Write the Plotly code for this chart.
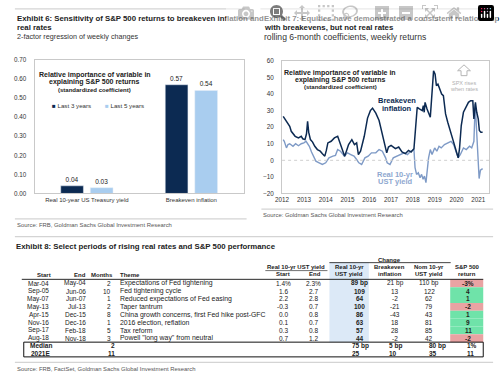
import plotly.graph_objects as go

W, H = 500, 380
def px(x): return x / W
def py(y): return 1 - y / H

NARROW = "Liberation Sans Narrow, Arial Narrow, Liberation Sans, Arial"
BODY = "Liberation Sans, Arial, sans-serif"
NAVY = "#0c2a52"
LIGHT = "#a9cdef"
REAL = "#7e9ac6"
GRID = "#c9c9c9"

# ---------------- Exhibit 6 data ----------------
ex6_categories = ["Real 10-year US Treasury yield", "Breakeven inflation"]
ex6_last3 = [0.04, 0.57]
ex6_last5 = [0.03, 0.54]
ex6_names = ["Last 3 years", "Last 5 years"]
ex6_yticks = [0.0, 0.1, 0.2, 0.3, 0.4, 0.5, 0.6, 0.7]

# ---------------- Exhibit 7 data ----------------
be_years = [2012.05, 2012.12, 2012.2, 2012.28, 2012.35, 2012.42, 2012.5, 2012.6, 2012.75, 2012.88,
            2012.95, 2013.05, 2013.12, 2013.17, 2013.22, 2013.3, 2013.4, 2013.5, 2013.62, 2013.75,
            2013.85, 2013.96, 2014.03, 2014.1, 2014.25, 2014.4, 2014.55, 2014.65, 2014.8, 2014.87,
            2014.95, 2015.05, 2015.2, 2015.32, 2015.42, 2015.5, 2015.6, 2015.77, 2015.92, 2016.05,
            2016.15, 2016.3, 2016.45, 2016.55, 2016.65, 2016.75, 2016.8, 2016.88, 2017.0, 2017.2,
            2017.35, 2017.5, 2017.65, 2017.8, 2017.92, 2018.05, 2018.12, 2018.2, 2018.3, 2018.43,
            2018.48, 2018.52, 2018.56, 2018.65, 2018.8, 2018.88, 2018.95, 2019.02, 2019.08, 2019.15,
            2019.22, 2019.32, 2019.4, 2019.5, 2019.6, 2019.7, 2019.78, 2019.87, 2020.0, 2020.08,
            2020.14, 2020.22, 2020.32, 2020.45, 2020.55, 2020.65, 2020.75, 2020.8, 2020.87, 2020.93,
            2021.0, 2021.05, 2021.12, 2021.2]
be_values = [26.5, 25, 23.5, 22, 20.5, 17.5, 16, 14.5, 13.5, 14.5,
             13, 12.5, 16, 23.5, 17, 12.5, 11, 8.5, 6.5, 5.5,
             4, 2.5, 6, 10.5, 11.5, 13.5, 14.5, 10.5, 4.5, 2.5,
             5.5, 9.5, 12.5, 9.5, 10.5, 3.5, 5.5, 14.5, 25.5, 30,
             31.5, 28.5, 24, 18, 13, 8, 4.5, 8, 9, 7,
             8, 5, 4, 6, 5, 7, 17, 32, 31, 30,
             33, 29, 35, 31, 26, 41, 54, 52, 45, 46,
             43, 40, 39, 28, 23, 19, 15, 11, 5, 1.5,
             7, 21, 29, 33, 35, 36, 36, 25, 35, 29,
             25, 18, 17, 17]
rr_years = [2012.05, 2012.1, 2012.2, 2012.27, 2012.35, 2012.5, 2012.62, 2012.75, 2012.88, 2013.0,
            2013.1, 2013.18, 2013.25, 2013.35, 2013.45, 2013.55, 2013.7, 2013.85, 2014.0, 2014.15,
            2014.33, 2014.45, 2014.55, 2014.68, 2014.86, 2015.0, 2015.15, 2015.3, 2015.42, 2015.52,
            2015.65, 2015.8, 2015.95, 2016.1, 2016.3, 2016.45, 2016.6, 2016.75, 2016.82, 2016.95,
            2017.1, 2017.25, 2017.4, 2017.6, 2017.75, 2017.9, 2018.05, 2018.1, 2018.17, 2018.25,
            2018.33, 2018.4, 2018.47, 2018.53, 2018.6, 2018.65, 2018.72, 2018.8, 2018.88, 2019.0,
            2019.1, 2019.2, 2019.3, 2019.45, 2019.6, 2019.75, 2019.87, 2019.98, 2020.08, 2020.18,
            2020.32, 2020.45, 2020.6, 2020.7, 2020.8, 2020.86, 2020.92, 2021.0, 2021.04, 2021.1,
            2021.2]
rr_values = [12.5, 11.5, 7.5, 9.5, 10, 8.5, 10, 8.8, 10, 10.5,
             11.5, 9.5, 8.5, 5, 2.5, -0.5, -1.5, -2.5, -1.5, 1.5,
             2.5, 3, 6.5, 5.5, 2.5, 4.5, 3.5, 2.5, 0.5, -1.5,
             -2.5, 1.5, 2.5, 4.5, 4.5, 6.5, 5.5, 1.5, -1.5, -2.5,
             1.5, 2.5, 3.5, 4.5, 3.5, 5.5, 6.5, -4.5, -8.5, -7.5,
             -10.5, -8.5, -11.5, -9.5, -13.5, -6.5, 1.5, 6.5, 3.5, 7.5,
             5.5, 8.5, 7.5, 9.5, 10.5, 11.5, 9.5, 5.5, 1.5, 3.5,
             7.5, 6.5, 8.5, 7.5, 11.5, 34, 20, 0, -11, -6,
             -5]
ex7_xticks = [2012, 2013, 2014, 2015, 2016, 2017, 2018, 2019, 2020, 2021]
ex7_yticks = [-20, -10, 0, 10, 20, 30, 40, 50, 60]

# ---------------- Exhibit 8 data ----------------
t_start = ["Mar-04", "Sep-05", "May-07", "May-13", "Apr-15", "Nov-16", "Sep-17", "Aug-18"]
t_end = ["May-04", "Jun-06", "Jun-07", "Jul-13", "Dec-15", "Dec-16", "Feb-18", "Nov-18"]
t_months = ["2", "10", "1", "2", "8", "1", "5", "3"]
t_theme = ["Expectations of Fed tightening", "Fed tightening cycle",
           "Reduced expectations of Fed easing", "Taper tantrum",
           "China growth concerns, first Fed hike post-GFC", "2016 election, reflation",
           "Tax reform", "Powell \"long way\" from neutral"]
t_real_start = ["1.4%", "1.6", "2.2", "-0.3", "0.0", "0.1", "0.3", "0.7"]
t_real_end = ["2.3%", "2.7", "2.8", "0.7", "0.8", "0.7", "0.8", "1.2"]
t_real_chg = ["89 bp", "109", "64", "100", "86", "63", "57", "44"]
t_be_chg = ["21 bp", "13", "-2", "-21", "-43", "18", "28", "-2"]
t_nom_chg = ["110 bp", "122", "62", "79", "43", "81", "85", "42"]
t_spx = ["-3%", "4", "1", "-2", "1", "9", "11", "-2"]
t_spx_val = [-3, 4, 1, -2, 1, 9, 11, -2]
t_summary_labels = ["Median", "2021E"]
t_summary_months = ["2", "11"]
t_summary_real = ["75 bp", "25"]
t_summary_be = ["5 bp", "10"]
t_summary_nom = ["80 bp", "35"]
t_summary_spx = ["1%", "11"]

fig = go.Figure()

# Exhibit 6 bars
for vals, name, col in [(ex6_last3, ex6_names[0], NAVY), (ex6_last5, ex6_names[1], LIGHT)]:
    fig.add_trace(go.Bar(x=ex6_categories, y=vals, name=name, marker_color=col,
                         text=[f"{v:.2f}" for v in vals], textposition="outside",
                         textfont=dict(size=6.5, color="#222", family=BODY), cliponaxis=False,
                         xaxis="x", yaxis="y", showlegend=False))

# Exhibit 7 lines
fig.add_trace(go.Scatter(x=rr_years, y=rr_values, mode="lines", line=dict(color=REAL, width=1.4),
                         xaxis="x2", yaxis="y2", showlegend=False, name="Real 10-yr UST yield"))
fig.add_trace(go.Scatter(x=be_years, y=be_values, mode="lines", line=dict(color=NAVY, width=1.5),
                         xaxis="x2", yaxis="y2", showlegend=False, name="Breakeven inflation"))

tickfont = dict(size=6.3, color="#333", family=BODY)
fig.update_layout(
    width=W, height=H, autosize=False, margin=dict(l=0, r=0, t=0, b=0),
    paper_bgcolor="white", plot_bgcolor="white",
    barmode="group", bargap=0.434, bargroupgap=0.233,
    xaxis=dict(domain=[px(28), px(240)], showline=True, linecolor=GRID, mirror=True,
               ticks="", tickfont=dict(size=6, color="#333", family=BODY), fixedrange=True),
    yaxis=dict(domain=[py(193), py(57)], range=[0, 0.7], tickvals=ex6_yticks, tickformat=".2f",
               showgrid=False, zeroline=False, showline=True, linecolor=GRID, mirror=True,
               ticks="", tickfont=tickfont, ticklabelstandoff=6),
    xaxis2=dict(domain=[px(279), px(489)], range=[2012, 2021.5], tickvals=ex7_xticks,
                showgrid=False, zeroline=False, showline=True, linecolor=GRID, mirror=True,
                ticks="", tickfont=tickfont, anchor="y2"),
    yaxis2=dict(domain=[py(193), py(58)], range=[-20, 60], tickvals=ex7_yticks,
                showgrid=False, zeroline=False, showline=True, linecolor=GRID, mirror=True,
                ticks="", tickfont=tickfont, anchor="x2", ticklabelstandoff=6),
)

shapes = []
ann = []

def hline(x0, x1, y, color="#d4d4d4", width=1.2, dash=None):
    d = dict(type="line", xref="paper", yref="paper", x0=px(x0), x1=px(x1), y0=py(y), y1=py(y),
             line=dict(color=color, width=width))
    if dash:
        d["line"]["dash"] = dash
    shapes.append(d)

def rect(x0, x1, y0, y1, fill, line=None):
    shapes.append(dict(type="rect", xref="paper", yref="paper", x0=px(x0), x1=px(x1),
                       y0=py(y1), y1=py(y0), fillcolor=fill,
                       line=dict(width=1 if line else 0, color=line or fill), layer="below"))

def text(x, y, s, size=7, color="#222", family=BODY, anchor="left", bold=False):
    if bold:
        s = f"<b>{s}</b>"
    ann.append(dict(xref="paper", yref="paper", x=px(x), y=py(y), text=s, showarrow=False,
                    xanchor=anchor, yanchor="middle", font=dict(size=size, color=color, family=family)))

TT = 7.8
# top rules and separators
hline(8, 241, 5)
hline(257, 491, 5)
hline(8, 243, 219)
hline(258, 493, 209)
hline(8, 493, 237)
hline(8, 493, 365)

# Exhibit 6 text
text(8, 15, "Exhibit 6: Sensitivity of S&P 500 returns to breakeven inflation and", TT, "#222", NARROW, bold=True)
text(8, 23.5, "real rates", TT, "#222", NARROW, bold=True)
text(8, 33.5, "2-factor regression of weekly changes", 7.2, "#333", NARROW)
text(89, 72, "Relative importance of variable in", 7, "#222", BODY, "center", True)
text(89, 79.5, "explaining S&P 500 returns", 7, "#222", BODY, "center", True)
text(89, 87.5, "(standardized coefficient)", 6, "#222", BODY, "center", True)
text(44, 103, f"<span style='color:{NAVY}'>■</span> {ex6_names[0]}", 6.2, "#333")
text(97, 103, f"<span style='color:{LIGHT}'>■</span> {ex6_names[1]}", 6.2, "#333")
text(8, 225, "Source: FRB, Goldman Sachs Global Investment Research", 5.9, "#555", NARROW)

# Exhibit 7 text
text(259, 15, "Exhibit 7: Equities have demonstrated a consistent relationship", TT, "#222", NARROW, bold=True)
text(259, 23.5, "with breakevens, but not real rates", TT, "#222", NARROW, bold=True)
text(259, 33.5, "rolling 6-month coefficients, weekly returns", 8.6, "#333", NARROW)
text(338, 70, "Relative importance of variable in", 7, "#222", BODY, "center", True)
text(338, 77.3, "explaining S&P 500 returns", 7, "#222", BODY, "center", True)
text(338, 84.5, "(standardized coefficient)", 6, "#222", BODY, "center", True)
text(396, 98.5, "Breakeven", 7.5, NAVY, BODY, "center", True)
text(396, 106.5, "inflation", 7.5, NAVY, BODY, "center", True)
text(394, 173.5, "Real 10-yr", 7.5, "#8ea7cf", BODY, "center", True)
text(394, 181, "UST yield", 7.5, "#8ea7cf", BODY, "center", True)
text(463, 80.5, "SPX rises", 5.5, "#b0b0b0", BODY, "center")
text(463, 87, "when rates", 5.5, "#b0b0b0", BODY, "center")
text(258, 214.5, "Source: Goldman Sachs Global Investment Research", 5.9, "#555", NARROW)
# zero line and arrow
shapes.append(dict(type="line", xref="x2 domain", yref="y2", x0=0, x1=1, y0=0, y1=0,
                   line=dict(color="#cfcfcf", width=1, dash="dot")))
shapes.append(dict(type="path", xref="paper", yref="paper",
                   path=(f"M{px(460.5)},{py(73)} L{px(460.5)},{py(68)} L{px(457)},{py(68)} "
                         f"L{px(463.5)},{py(62)} L{px(470)},{py(68)} L{px(466.5)},{py(68)} "
                         f"L{px(466.5)},{py(73)} Z"),
                   line=dict(color="#b5b5b5", width=1), fillcolor="rgba(0,0,0,0)"))

# Exhibit 8
text(7, 247.5, "Exhibit 8: Select periods of rising real rates and S&P 500 performance", TT, "#222", NARROW, bold=True)
text(8, 372, "Source: FRB, FactSet, Goldman Sachs Global Investment Research", 5.9, "#555", NARROW)

TS = 6.5
HS = 6
# backgrounds
rect(327, 367, 263, 344.5, "#dce9f7")
for i, v in enumerate(t_spx_val):
    rect(449.5, 483, 280.5 + 8 * i, 288.5 + 8 * i, "#e9a3a3" if v < 0 else "#6fe3a9")
# lines
hline(327, 450, 263.5, "#111", 0.8)
hline(262, 325, 271.6, "#111", 0.6)
hline(15, 483, 280.5, "#111", 0.9)
shapes.append(dict(type="rect", xref="paper", yref="paper", x0=px(17), x1=px(483),
                   y0=py(359.5), y1=py(344.5), line=dict(color="#111", width=1)))

# headers
text(388, 260.5, "Change", HS, anchor="center", bold=True)
text(293, 268, "Real 10-yr UST yield", HS, anchor="center", bold=True)
text(280, 275.5, "Start", HS, anchor="center", bold=True)
text(312, 275.5, "End", HS, anchor="center", bold=True)
for cx, l1, l2 in [(347, "Real 10-yr", "UST yield"), (388, "Breakeven", "inflation"),
                   (428, "Nom 10-yr", "UST yield"), (467, "S&P 500", "return")]:
    text(cx, 268, l1, HS, anchor="center", bold=True)
    text(cx, 275.5, l2, HS, anchor="center", bold=True)
text(28, 276, "Start", HS, bold=True)
text(66, 276, "End", HS, bold=True)
text(110, 276, "Months", HS, anchor="right", bold=True)
text(113, 276, "Theme", HS, bold=True)

for i in range(len(t_start)):
    y = 284.5 + 8 * i
    text(45, y, t_start[i], TS, anchor="right")
    text(82, y, t_end[i], TS, anchor="right")
    text(108, y, t_months[i], TS, anchor="right")
    text(113, y, t_theme[i], 6.9)
    text(280, y, t_real_start[i], TS, anchor="center")
    text(311, y, t_real_end[i], TS, anchor="center")
    text(358, y, t_real_chg[i], TS, anchor="center", bold=True)
    text(394, y, t_be_chg[i], TS, anchor="center")
    text(428, y, t_nom_chg[i], TS, anchor="center")
    text(468, y, t_spx[i], TS, anchor="center", bold=True)

for j in range(2):
    y = 348.3 + 7.5 * j
    text(34, y, t_summary_labels[j], TS, anchor="center", bold=True)
    text(112, y, t_summary_months[j], TS, anchor="right", bold=True)
    text(348, y, t_summary_real[j], TS, bold=True)
    text(385, y, t_summary_be[j], TS, bold=True)
    text(426, y, t_summary_nom[j], TS, bold=True)
    text(465, y, t_summary_spx[j], TS, bold=True)

fig.update_layout(shapes=shapes, annotations=ann)
fig.write_html("out.html", post_script="document.body.style.margin='0';document.body.style.overflow='hidden';")
